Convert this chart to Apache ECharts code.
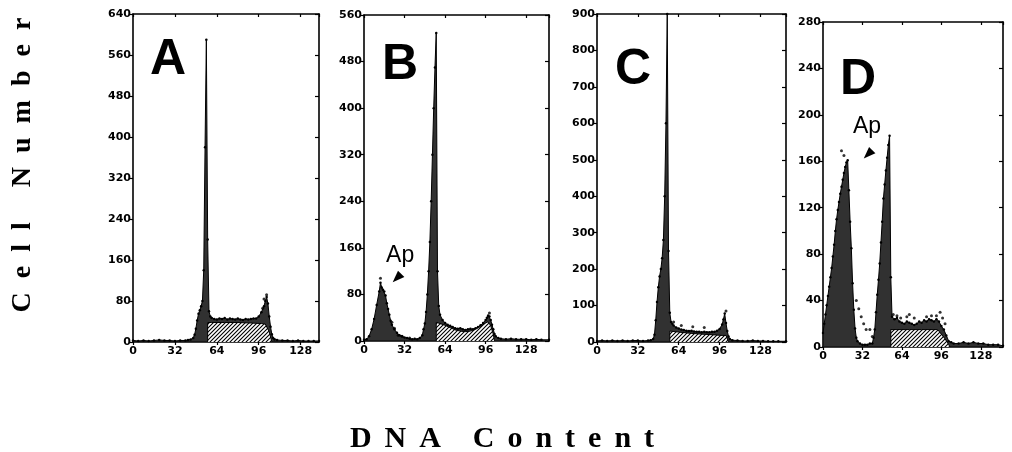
<!DOCTYPE html>
<html>
<head>
<meta charset="utf-8">
<script src="https://cdn.jsdelivr.net/npm/echarts@6/dist/echarts.min.js"></script>
<style>
  html, body { margin: 0; padding: 0; background: #fff; overflow: hidden; }
  #wrap { position: relative; width: 1012px; height: 452px; }
  #chart { position: absolute; left: 0; top: 0; width: 1012px; height: 452px; }
  .ytitle { position: absolute; left: -148px; top: 148px; width: 340px; height: 34px; line-height: 34px;
            transform: rotate(-90deg); text-align: center; font: bold 28px "Liberation Serif", "DejaVu Serif", serif;
            letter-spacing: 14px; padding-left: 14px; box-sizing: border-box; color: #000; white-space: pre; }
  .xtitle { position: absolute; left: 250px; top: 420px; width: 504px; height: 32px; line-height: 32px;
            text-align: center; font: bold 30px "Liberation Serif", "DejaVu Serif", serif;
            letter-spacing: 13px; padding-left: 13px; box-sizing: border-box; color: #000; white-space: pre; }
</style>
</head>
<body>
<div id="wrap">
  <div id="chart"></div>
  <div class="ytitle">Cell Number</div>
  <div class="xtitle">DNA Content</div>
</div>
<script>
// ---------------- DATA (channel, cell count) ----------------
const xTickLabels = [0, 32, 64, 96, 128];
const panelLetters = ['A', 'B', 'C', 'D'];

const histA = [[0,3],[4,2],[8,3],[12,2],[16,3],[20,4],[24,3],[28,3],[32,2],[36,3],[40,3],[42,4],[44,5],[46,8],
  [47,14],[48,26],[49,42],[50,55],[51,62],[52,70],[53,80],[54,140],[55,380],[56,590],[57,200],[58,60],[59,50],
  [60,47],[62,45],[64,44],[66,46],[68,45],[70,47],[72,44],[74,46],[76,45],[78,44],[80,46],[82,44],[84,43],
  [86,45],[88,44],[90,45],[92,46],[94,46],[96,50],[98,58],[100,70],[101,80],[102,88],[103,75],[104,50],
  [105,30],[106,15],[107,8],[108,5],[110,4],[114,3],[118,3],[122,2],[126,3],[130,2],[134,2],[138,2],[142,2]];
const sPhaseA = [[57,0],[57,38],[60,38],[70,38],[80,38],[90,37],[98,36],[101,35],[104,20],[106,0]];
const dotsA = [[100,84],[102,92],[99,66]];

const histB = [[0,2],[2,3],[4,8],[6,20],[8,38],[10,62],[12,85],[13,100],[14,92],[15,88],[16,85],[17,78],
  [18,65],[19,55],[20,45],[21,35],[22,28],[24,20],[26,14],[28,10],[30,8],[32,6],[34,5],[36,4],[38,3],[40,4],
  [42,3],[44,5],[46,10],[47,20],[48,30],[49,50],[50,80],[51,120],[52,170],[53,240],[54,320],[55,400],[56,470],
  [57,529],[58,120],[59,60],[60,45],[62,36],[64,31],[66,28],[68,26],[70,24],[72,22],[74,21],[76,22],[78,20],
  [80,19],[82,20],[84,21],[86,20],[88,22],[90,24],[92,27],[94,31],[96,36],[97,40],[98,44],[99,42],[100,36],
  [101,28],[102,20],[103,12],[104,8],[106,5],[108,4],[112,3],[116,4],[120,3],[124,3],[128,3],[132,2],[136,3],
  [140,2],[146,2]];
const sPhaseB = [[57,0],[57,32],[60,30],[64,27],[68,23],[72,19],[76,17],[80,16],[84,17],[88,20],[92,25],
  [96,31],[98,33],[100,26],[102,12],[103,0]];
const dotsB = [[13,108],[22,32],[24,22],[27,10],[30,8],[36,5],[99,48]];

const histC = [[0,3],[4,4],[8,3],[12,4],[16,3],[20,4],[24,3],[28,4],[32,4],[36,3],[40,4],[42,5],[44,8],
  [45,20],[46,60],[47,110],[48,150],[49,180],[50,200],[51,230],[52,280],[53,400],[54,600],[55,900],[56,250],
  [57,80],[58,55],[59,50],[60,45],[62,40],[64,37],[66,34],[68,33],[70,31],[72,30],[74,31],[76,29],[78,28],
  [80,28],[82,27],[84,28],[86,27],[88,27],[90,28],[92,28],[94,31],[96,36],[98,48],[99,62],[100,78],[101,52],
  [102,30],[103,15],[104,8],[106,5],[110,4],[114,3],[118,3],[122,4],[126,3],[130,3],[134,2],[138,2],[142,2],[148,2]];
const sPhaseC = [[57,0],[57,30],[62,28],[70,25],[80,22],[90,20],[98,18],[101,18],[103,0]];
const dotsC = [[60,55],[66,45],[75,42],[84,40],[101,85]];

const histD = [[0,12],[1,20],[2,28],[3,36],[4,44],[5,52],[6,60],[7,68],[8,78],[9,88],[10,100],[11,110],
  [12,118],[13,125],[14,132],[15,138],[16,144],[17,150],[18,155],[19,159],[20,161],[21,135],[22,108],[23,85],
  [24,55],[25,32],[26,16],[27,8],[28,5],[30,3],[32,2],[34,2],[36,2],[38,3],[40,3],[41,8],[42,15],[43,30],
  [44,45],[45,58],[46,72],[47,90],[48,108],[49,128],[50,140],[51,152],[52,163],[53,174],[54,182],[55,60],
  [56,26],[58,24],[60,25],[62,22],[64,21],[66,20],[68,22],[70,21],[72,20],[74,19],[76,20],[78,22],[80,21],
  [82,23],[84,22],[86,24],[88,23],[90,22],[92,24],[94,22],[96,18],[98,15],[100,10],[102,5],[104,4],[106,3],
  [110,3],[114,4],[118,3],[122,4],[126,3],[130,3],[134,2],[138,2],[142,2],[146,1]];
const sPhaseD = [[55,0],[55,15],[60,15],[70,15],[80,15],[90,15],[93,15],[96,11],[99,7],[102,2],[103,0]];
const dotsD = [[15,169],[17,165],[27,40],[29,33],[31,26],[33,20],[35,15],[38,15],[40,9],[57,28],[60,27],
  [63,25],[68,26],[70,28],[74,25],[84,26],[88,27],[92,27],[95,30],[97,25],[99,20]];

// ---------------- LAYOUT ----------------
const panels = [
  { hist: histA, s: sPhaseA, dots: dotsA, left: 133, top: 14, width: 186, height: 328, xMax: 142, yMax: 640, yStep: 80,
    letterPos: [168, 60], ap: null },
  { hist: histB, s: sPhaseB, dots: dotsB, left: 364, top: 15, width: 185, height: 326, xMax: 146, yMax: 560, yStep: 80,
    letterPos: [400, 65], ap: { text: [28.5, 146], arrow: [26, 108] } },
  { hist: histC, s: sPhaseC, dots: dotsC, left: 597, top: 14, width: 189, height: 328, xMax: 148, yMax: 900, yStep: 100,
    letterPos: [633, 70], ap: null },
  { hist: histD, s: sPhaseD, dots: dotsD, left: 823, top: 22, width: 180, height: 325, xMax: 146, yMax: 280, yStep: 40,
    letterPos: [858, 80], ap: { text: [35.7, 190], arrow: [36.5, 166] } }
];

function hatchCanvas() {
  const c = document.createElement('canvas');
  const n = 4;
  c.width = n; c.height = n;
  const g = c.getContext('2d');
  g.fillStyle = '#fff'; g.fillRect(0, 0, n, n);
  g.strokeStyle = '#000'; g.lineWidth = 1.1;
  g.beginPath();
  g.moveTo(0, n); g.lineTo(n, 0);
  g.moveTo(-1, 1); g.lineTo(1, -1);
  g.moveTo(n - 1, n + 1); g.lineTo(n + 1, n - 1);
  g.stroke();
  return c;
}
const hatch = hatchCanvas();

const labelFont = { color: '#000', fontSize: 11, fontWeight: 'bold', fontFamily: 'DejaVu Sans' };
const lineBlack = { color: '#000', width: 1.6 };

const grid = [], xAxis = [], yAxis = [], series = [], graphic = [];
panels.forEach((p, i) => {
  grid.push({ left: p.left, top: p.top, width: p.width, height: p.height });
  xAxis.push({
    type: 'value', gridIndex: i, min: 0, max: p.xMax, interval: 32, position: 'bottom',
    axisLine: { show: true, onZero: false, lineStyle: lineBlack },
    axisTick: { show: true, inside: false, length: 3, lineStyle: { color: '#000', width: 1.2 } },
    axisLabel: Object.assign({ margin: 4, showMaxLabel: false,
      formatter: v => xTickLabels.includes(v) ? String(v) : '' }, labelFont),
    splitLine: { show: false }
  });
  xAxis.push({
    type: 'value', gridIndex: i, min: 0, max: p.xMax, interval: 32, position: 'top',
    axisLine: { show: true, onZero: false, lineStyle: lineBlack },
    axisTick: { show: true, inside: true, length: 3, lineStyle: { color: '#000', width: 1.2 } },
    axisLabel: { show: false }, splitLine: { show: false }
  });
  yAxis.push({
    type: 'value', gridIndex: i, min: 0, max: p.yMax, interval: p.yStep, position: 'left',
    axisLine: { show: true, onZero: false, lineStyle: lineBlack },
    axisTick: { show: true, inside: false, length: 3, lineStyle: { color: '#000', width: 1.2 } },
    axisLabel: Object.assign({ margin: 2 }, labelFont),
    splitLine: { show: false }
  });
  yAxis.push({
    type: 'value', gridIndex: i, min: 0, max: p.yMax, interval: p.yStep, position: 'right',
    axisLine: { show: true, onZero: false, lineStyle: lineBlack },
    axisTick: { show: true, inside: true, length: 4, lineStyle: { color: '#000', width: 1.2 } },
    axisLabel: { show: false }, splitLine: { show: false }
  });

  const totalSeries = {
    type: 'line', xAxisIndex: 2 * i, yAxisIndex: 2 * i, data: p.hist, z: 2,
    symbol: 'circle', symbolSize: 2.5, showSymbol: true, showAllSymbol: true,
    itemStyle: { color: '#000' }, lineStyle: { color: '#000', width: 1 },
    areaStyle: { color: '#141414', opacity: 0.88 }, animation: false, silent: true
  };
  if (p.ap) {
    totalSeries.markPoint = {
      silent: true, animation: false,
      data: [
        { coord: p.ap.text, symbol: 'circle', symbolSize: 1, itemStyle: { color: 'rgba(0,0,0,0)' },
          label: { show: true, position: 'inside', formatter: 'Ap', color: '#000', fontSize: 23,
                   fontFamily: 'Liberation Sans', fontWeight: 'normal' } },
        { coord: p.ap.arrow, symbol: 'triangle', symbolSize: [9, 12], symbolRotate: 135,
          itemStyle: { color: '#000' }, label: { show: false } }
      ]
    };
  }
  series.push(totalSeries);
  series.push({
    type: 'line', xAxisIndex: 2 * i, yAxisIndex: 2 * i, data: p.s, z: 3,
    symbol: 'none', lineStyle: { color: '#000', width: 1 },
    areaStyle: { color: { image: hatch, repeat: 'repeat' }, opacity: 1 }, animation: false, silent: true
  });
  series.push({
    type: 'scatter', xAxisIndex: 2 * i, yAxisIndex: 2 * i, data: p.dots, z: 4,
    symbol: 'circle', symbolSize: 3, itemStyle: { color: '#000' }, animation: false, silent: true
  });
  graphic.push({
    type: 'text', x: p.letterPos[0], y: p.letterPos[1], z: 10,
    style: { text: panelLetters[i], fill: '#000', font: 'bold 50px "Liberation Sans"',
             textAlign: 'center', textVerticalAlign: 'middle' }
  });
});

const chart = echarts.init(document.getElementById('chart'), null, { renderer: 'canvas' });
chart.setOption({ backgroundColor: '#fff', animation: false, grid, xAxis, yAxis, series, graphic });
</script>
</body>
</html>
